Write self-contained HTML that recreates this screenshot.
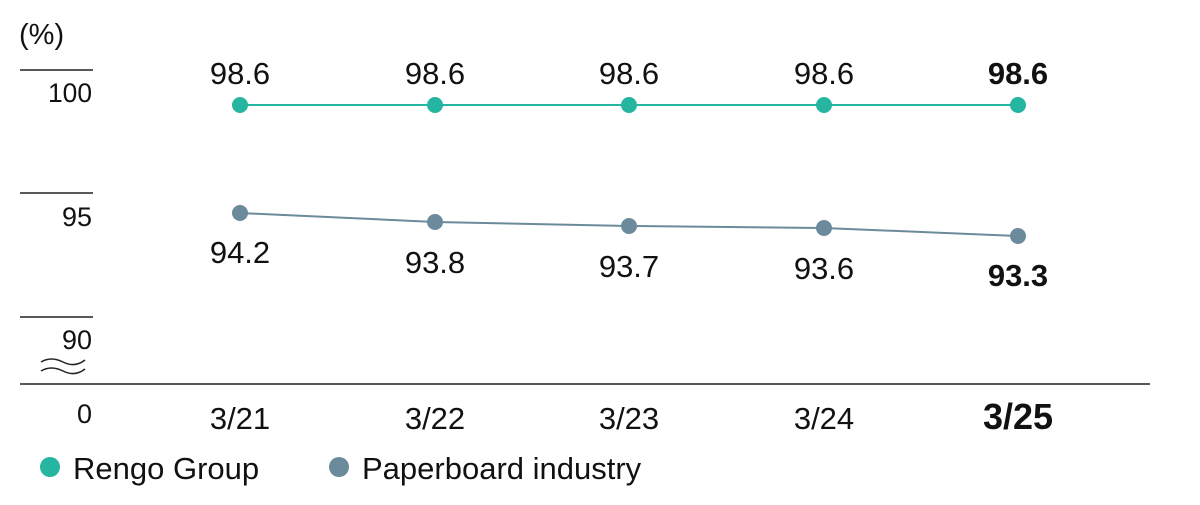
<!DOCTYPE html>
<html><head><meta charset="utf-8"><style>
body{margin:0;background:#fff;}
svg text{font-family:"Liberation Sans",sans-serif;fill:#111;}
</style></head><body>
<svg width="1200" height="500" viewBox="0 0 1200 500">
<text x="19" y="44" font-size="29">(%)</text>
<g stroke="#222" stroke-width="1.5">
<line x1="20" y1="70" x2="93" y2="70"/>
<line x1="20" y1="193" x2="93" y2="193"/>
<line x1="20" y1="317" x2="93" y2="317"/>
<line x1="20" y1="384" x2="1150" y2="384"/>
</g>
<path d="M41 362 q10 -6 22 0 t22 -2 M41 371 q10 -6 22 0 t22 -2" stroke="#222" stroke-width="1.5" fill="none"/>
<g font-size="27" text-anchor="end">
<text x="92" y="102" textLength="44" lengthAdjust="spacingAndGlyphs">100</text>
<text x="92" y="226" textLength="30" lengthAdjust="spacingAndGlyphs">95</text>
<text x="92" y="349" textLength="30" lengthAdjust="spacingAndGlyphs">90</text>
<text x="92" y="423">0</text>
</g>
<polyline points="240,105 435,105 629,105 824,105 1018,105" fill="none" stroke="#26b5a0" stroke-width="2"/>
<polyline points="240,213 435,222 629,226 824,228 1018,236" fill="none" stroke="#6b8a9b" stroke-width="2"/>
<g fill="#26b5a0"><circle cx="240" cy="105" r="8"/><circle cx="435" cy="105" r="8"/><circle cx="629" cy="105" r="8"/><circle cx="824" cy="105" r="8"/><circle cx="1018" cy="105" r="8"/></g>
<g fill="#6b8a9b"><circle cx="240" cy="213" r="8"/><circle cx="435" cy="222" r="8"/><circle cx="629" cy="226" r="8"/><circle cx="824" cy="228" r="8"/><circle cx="1018" cy="236" r="8"/></g>
<g font-size="31" text-anchor="middle">
<text x="240" y="84">98.6</text><text x="435" y="84">98.6</text><text x="629" y="84">98.6</text><text x="824" y="84">98.6</text>
<text x="1018" y="84" font-weight="bold">98.6</text>
<text x="240" y="263">94.2</text><text x="435" y="273">93.8</text><text x="629" y="277">93.7</text><text x="824" y="279">93.6</text>
<text x="1018" y="286" font-weight="bold">93.3</text>
<text x="240" y="429">3/21</text><text x="435" y="429">3/22</text><text x="629" y="429">3/23</text><text x="824" y="429">3/24</text>
<text x="1018" y="429" font-weight="bold" font-size="36">3/25</text>
</g>
<circle cx="50" cy="467" r="10" fill="#26b5a0"/>
<text x="73" y="479" font-size="31">Rengo Group</text>
<circle cx="339" cy="467" r="10" fill="#6b8a9b"/>
<text x="362" y="479" font-size="31">Paperboard industry</text>
</svg>
</body></html>
